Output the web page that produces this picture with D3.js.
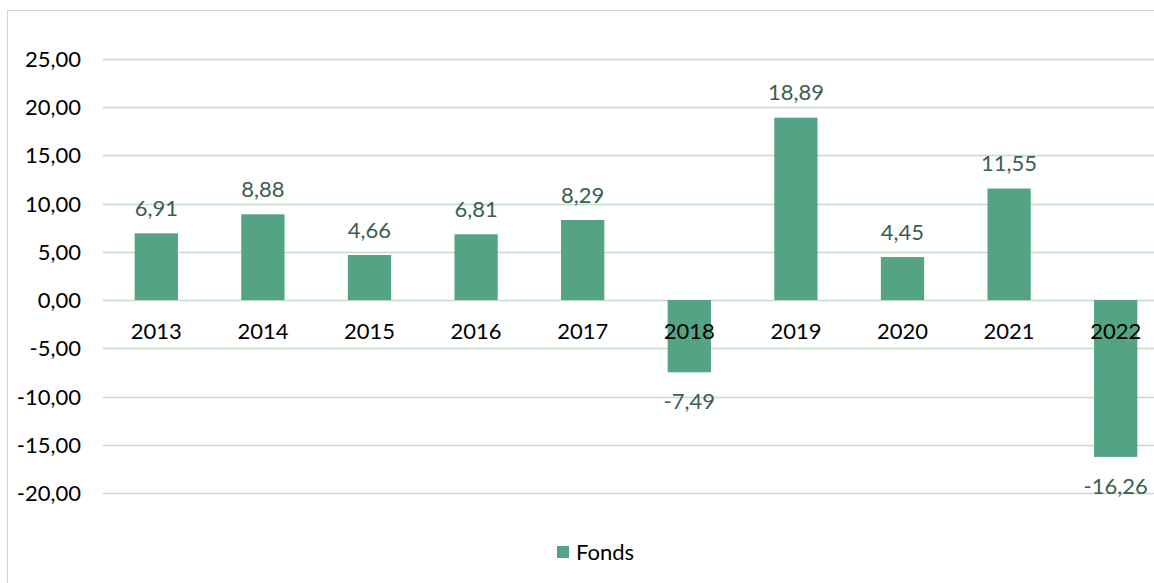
<!DOCTYPE html>
<html>
<head>
<meta charset="utf-8">
<script src="https://cdn.jsdelivr.net/npm/d3@7"></script>
<style>
  body { margin: 0; background: #fff; }
  svg { display: block; font-family: Lato, "Open Sans", sans-serif; }
</style>
</head>
<body>
<div id="chart"></div>
<script>
const years = ["2013", "2014", "2015", "2016", "2017", "2018", "2019", "2020", "2021", "2022"];
const fonds = [6.91, 8.88, 4.66, 6.81, 8.29, -7.49, 18.89, 4.45, 11.55, -16.26];
const yTicks = [-20, -15, -10, -5, 0, 5, 10, 15, 20, 25];
const seriesName = "Fonds";

const width = 1154;
const height = 583;

const svg = d3.select("#chart")
  .append("svg")
  .attr("width", width)
  .attr("height", height);

// chart frame
svg.append("rect")
  .attr("x", 7.5)
  .attr("y", 10.5)
  .attr("width", 1200)
  .attr("height", 700)
  .attr("fill", "none")
  .attr("stroke", "#c8dcc8")
  .attr("stroke-width", 1);

// scales
const xScale = d3.scaleBand()
  .domain(years)
  .range([103, 1169])
  .paddingInner(0.594)
  .paddingOuter(0.297);

const yScale = d3.scaleLinear()
  .domain([-20, 25])
  .range([493, 58.75]);

// gridlines
svg.append("g")
  .selectAll("line")
  .data(yTicks)
  .join("line")
  .attr("x1", 103)
  .attr("x2", 1169)
  .attr("y1", (d) => Math.round(yScale(d)) + 0.5)
  .attr("y2", (d) => Math.round(yScale(d)) + 0.5)
  .attr("stroke", "#c5dcc5")
  .attr("stroke-width", 1.3);

// y axis labels
const fmt = (v) => d3.format(".2f")(v).replace(".", ",").replace("−", "-");
const yAxis = d3.axisLeft(yScale)
  .tickValues(yTicks)
  .tickFormat(fmt)
  .tickSize(0)
  .tickPadding(0);

const yAxisGroup = svg.append("g")
  .attr("transform", "translate(81,0)")
  .call(yAxis);
yAxisGroup.select(".domain").remove();
yAxisGroup.selectAll("text")
  .attr("font-family", "Lato, sans-serif")
  .attr("font-size", 22)
  .attr("fill", "#000")
  .attr("dy", "0.35em");

// bars
svg.selectAll(".bar")
  .data(fonds)
  .join("rect")
  .attr("class", "bar")
  .attr("x", (d, i) => xScale(years[i]))
  .attr("width", xScale.bandwidth())
  .attr("y", (d) => yScale(Math.max(0, d)))
  .attr("height", (d) => Math.abs(yScale(d) - yScale(0)))
  .attr("fill", "#55a385");

// category labels just below the zero line
svg.selectAll(".cat")
  .data(years)
  .join("text")
  .attr("class", "cat")
  .attr("x", (d) => xScale(d) + xScale.bandwidth() / 2)
  .attr("y", yScale(0) + 31)
  .attr("dy", "0.35em")
  .attr("text-anchor", "middle")
  .attr("font-size", 22)
  .attr("fill", "#000")
  .text((d) => d);

// data labels
svg.selectAll(".value")
  .data(fonds)
  .join("text")
  .attr("class", "value")
  .attr("x", (d, i) => xScale(years[i]) + xScale.bandwidth() / 2)
  .attr("y", (d) => d >= 0 ? yScale(d) - 25 : yScale(d) + 29)
  .attr("dy", "0.35em")
  .attr("text-anchor", "middle")
  .attr("font-size", 22)
  .attr("fill", "#3c5e50")
  .text((d) => fmt(d));

// legend
const legend = svg.append("g").attr("transform", "translate(557,546)");
legend.append("rect")
  .attr("width", 12)
  .attr("height", 12)
  .attr("fill", "#55a385");
legend.append("text")
  .attr("x", 19)
  .attr("y", 6)
  .attr("dy", "0.35em")
  .attr("font-size", 22)
  .attr("fill", "#000")
  .text(seriesName);
</script>
</body>
</html>
